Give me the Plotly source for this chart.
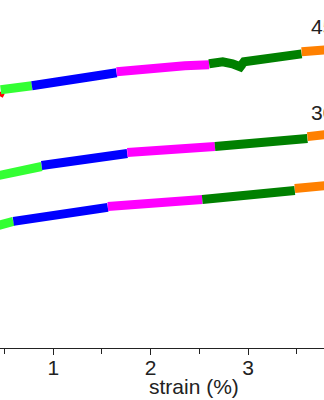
import plotly.graph_objects as go

# colors of the successive segments
seg_colors = ["#ff0000", "#33ff33", "#0000ff", "#ff00ff", "#008000", "#ff8000"]

# Top curve (label 45)
top_x = [
    [0.44, 0.46],
    [0.46, 0.62, 0.78],
    [0.78, 1.00, 1.20, 1.45, 1.65],
    [1.65, 1.85, 2.10, 2.35, 2.60],
    [2.60, 2.74, 2.84, 2.92, 2.96, 3.08, 3.30, 3.55],
    [3.55, 3.80],
]
top_y = [
    [253, 257],
    [259, 261, 263],
    [263, 267, 270, 273, 276],
    [277, 279, 281, 283, 284],
    [285, 287, 285, 282, 287, 289, 292, 295],
    [297, 299],
]

# Middle curve (label 30)
mid_x = [
    [],
    [0.44, 0.65, 0.88],
    [0.88, 1.15, 1.45, 1.76],
    [1.76, 2.05, 2.35, 2.66],
    [2.66, 2.95, 3.30, 3.61],
    [3.61, 3.80],
]
mid_y = [
    [],
    [173, 178, 182],
    [183, 187, 191, 195],
    [196, 198, 200, 202],
    [202, 205, 207, 210],
    [212, 214],
]

# Bottom curve
bot_x = [
    [],
    [0.44, 0.59],
    [0.59, 0.90, 1.25, 1.56],
    [1.56, 1.85, 2.20, 2.53],
    [2.53, 2.85, 3.20, 3.48],
    [3.48, 3.80],
]
bot_y = [
    [],
    [123, 127],
    [127, 132, 137, 141],
    [142, 144, 147, 149],
    [149, 152, 155, 158],
    [160, 163],
]

labels = ["45", "30"]
label_x = [3.64, 3.64]
label_y = [322, 236]

FONT = "Liberation Sans, Arial"

fig = go.Figure()
for xs_list, ys_list in [(top_x, top_y), (mid_x, mid_y), (bot_x, bot_y)]:
    for i, (xs, ys) in enumerate(zip(xs_list, ys_list)):
        if not xs:
            continue
        fig.add_trace(go.Scatter(
            x=xs, y=ys, mode="lines",
            line=dict(color=seg_colors[i], width=9),
            showlegend=False, hoverinfo="skip",
        ))

for t, lx, ly in zip(labels, label_x, label_y):
    fig.add_annotation(x=lx, y=ly, xref="x", yref="y", text=t, showarrow=False,
                       xanchor="left", yanchor="middle", borderpad=0,
                       font=dict(family=FONT, size=21, color="#222222"))

fig.add_annotation(x=2.45, y=0, xref="x", yref="paper", text="strain (%)",
                   showarrow=False, xanchor="center", yanchor="bottom",
                   yshift=-51, borderpad=0,
                   font=dict(family=FONT, size=21, color="#222222"))

fig.update_layout(
    width=324, height=400,
    margin=dict(l=0, r=0, t=0, b=52),
    paper_bgcolor="white", plot_bgcolor="white",
    xaxis=dict(
        range=[0.453, 3.78], showgrid=False, zeroline=False,
        showline=True, linecolor="#222222", linewidth=1.3,
        ticks="outside", tickcolor="#222222", ticklen=6, tickwidth=1.3,
        ticklabelstandoff=-5,
        tickvals=[1, 2, 3], ticktext=["1", "2", "3"],
        tickfont=dict(family=FONT, size=21, color="#222222"),
        minor=dict(tickvals=[0.5, 1.5, 2.5, 3.5], ticks="outside", ticklen=5,
                   tickcolor="#222222", tickwidth=1.3),
    ),
    yaxis=dict(range=[0, 349], visible=False),
)

fig.write_html("out.html")
